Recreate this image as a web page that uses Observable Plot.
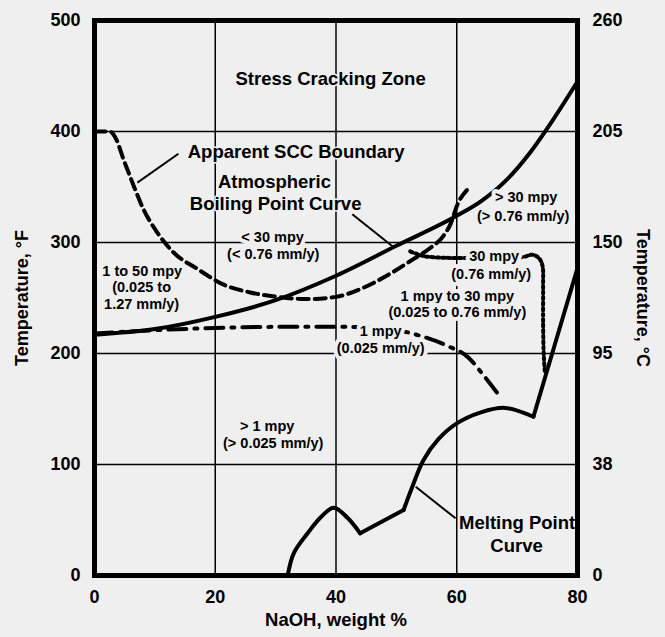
<!DOCTYPE html>
<html>
<head>
<meta charset="utf-8">
<script src="https://cdn.jsdelivr.net/npm/d3@7"></script>
<script src="https://cdn.jsdelivr.net/npm/@observablehq/plot@0.6"></script>
<style>
  html, body { margin: 0; padding: 0; background: #efefef; }
  svg text { paint-order: stroke; }
</style>
</head>
<body>
<div id="chart"></div>
<script>
// ---- Data ----
const xTicks = [0, 20, 40, 60, 80];
const yTicks = [0, 100, 200, 300, 400, 500];
const cTickLabels = ["0", "38", "95", "150", "205", "260"];

// Atmospheric boiling point curve
const boilPct  = [0, 10, 20, 30, 40, 50, 60, 64, 68, 72, 76, 80];
const boilTemp = [217, 222, 233, 248, 270, 297, 324, 337, 355, 380, 411, 445];

// Apparent SCC boundary (dashed)
const sccPct  = [0, 2.5, 3.6, 4.8, 6.5, 8.1, 10.4, 13.1, 17.1, 21.4, 25.8, 30.3, 35, 40, 44, 49, 52.8, 55.6, 57.8, 59, 60.1, 61.8];
const sccTemp = [400, 400, 393, 375, 351, 330, 309, 291, 276, 262, 255, 251, 249, 251, 258, 272, 285, 295, 306, 317, 334, 348];

// 1 mpy iso-corrosion line (dash-dot)
const mpy1Pct  = [0, 10, 20, 30, 42, 50, 54.5, 58.4, 62, 64.2, 67.2];
const mpy1Temp = [218, 221, 223, 224, 224, 221, 215, 207, 196, 182, 161];

// 30 mpy iso-corrosion line (dotted)
const mpy30Pct  = [52.3, 54, 55.5, 61, 71, 72.5, 73.6, 74.2, 74.3, 74.3, 74.4, 74.6];
const mpy30Temp = [292, 288.5, 287, 286, 287, 289, 286, 279, 260, 230, 200, 183];

// Melting point curve (segments between sharp corners)
const meltPct  = [32, 33, 35.3, 37.4, 39.6, 41.9, 44,   44, 51.2,   51.2, 52.5, 54.5, 57, 60, 64, 68, 72.7,   72.7, 80];
const meltTemp = [0, 20, 38, 52, 61, 52, 38,   38, 59,   59, 78, 104, 123, 137, 147, 151, 143,   143, 277];
const meltSeg  = ["a","a","a","a","a","a","a", "b","b", "c","c","c","c","c","c","c","c", "d","d"];

// Leader lines
const leaderX1 = [13.9, 42.7, 59.8];
const leaderY1 = [380, 325.5, 51.5];
const leaderX2 = [7.1, 49.5, 53.2];
const leaderY2 = [354, 296, 80];

// Annotations: large labels
const bigText = ["Stress Cracking Zone", "Apparent SCC Boundary", "Atmospheric", "Boiling Point Curve", "Melting Point", "Curve"];
const bigPct  = [39.1, 33.4, 29.8, 30.0, 70.0, 69.9];
const bigTemp = [447.6, 381.6, 354.4, 334.5, 47.0, 26.2];

// Annotations: small labels
const smallText = ["< 30 mpy", "(< 0.76 mm/y)", "1 to 50 mpy", "(0.025 to", "1.27 mm/y)",
  "> 30 mpy", "(> 0.76 mm/y)", "30 mpy", "(0.76 mm/y)", "1 mpy to 30 mpy", "(0.025 to 0.76 mm/y)",
  "1 mpy", "(0.025 mm/y)", "> 1 mpy", "(> 0.025 mm/y)"];
const smallPct  = [29.5, 29.6, 7.9, 7.8, 7.8, 71.5, 71.0, 66.2, 65.7, 60.1, 60.1, 47.4, 47.4, 28.6, 29.6];
const smallTemp = [304.7, 289.3, 274, 259.5, 244, 340.9, 323.7, 287.2, 271.0, 251.4, 236.9, 219.7, 204.3, 134.7, 119.3];

// ---- Build tables ----
const pts = (xs, ys) => xs.map((x, i) => ({x, y: ys[i]}));
const boil = pts(boilPct, boilTemp);
const scc = pts(sccPct, sccTemp);
const mpy1 = pts(mpy1Pct, mpy1Temp);
const mpy30 = pts(mpy30Pct, mpy30Temp);
const melt = meltPct.map((x, i) => ({x, y: meltTemp[i], s: meltSeg[i]}));
const leaders = leaderX1.map((x1, i) => ({x1, y1: leaderY1[i], x2: leaderX2[i], y2: leaderY2[i]}));
const bigLabels = bigText.map((t, i) => ({t, x: bigPct[i], y: bigTemp[i]}));
const smallLabels = smallText.map((t, i) => ({t, x: smallPct[i], y: smallTemp[i]}));

const BG = "#efefef";
const FONT = "'Liberation Sans', Arial, Helvetica, sans-serif";

const chart = Plot.plot({
  width: 665,
  height: 637,
  marginLeft: 94,
  marginRight: 88,
  marginTop: 20,
  marginBottom: 62,
  x: {domain: [0, 80]},
  y: {domain: [0, 500]},
  style: {background: BG, fontFamily: FONT, fontSize: "18px", fontWeight: "bold", color: "black"},
  marks: [
    Plot.gridX(xTicks.slice(1, -1), {stroke: "black", strokeOpacity: 1, strokeWidth: 1.5}),
    Plot.gridY(yTicks.slice(1, -1), {stroke: "black", strokeOpacity: 1, strokeWidth: 1.5}),
    Plot.line(boil, {x: "x", y: "y", curve: "monotone-x", stroke: "black", strokeWidth: 4}),
    Plot.line(scc, {x: "x", y: "y", curve: "monotone-x", stroke: "black", strokeWidth: 4, strokeDasharray: "11,6"}),
    Plot.line(mpy1, {x: "x", y: "y", curve: "monotone-x", stroke: "black", strokeWidth: 4, strokeDasharray: "18,8,3,8"}),
    Plot.line(mpy30, {x: "x", y: "y", curve: "catmull-rom", stroke: "black", strokeWidth: 4, strokeDasharray: "2.5,3"}),
    Plot.line(melt, {x: "x", y: "y", z: "s", curve: "catmull-rom", stroke: "black", strokeWidth: 4, strokeLinejoin: "miter"}),
    Plot.link(leaders, {x1: "x1", y1: "y1", x2: "x2", y2: "y2", stroke: "black", strokeWidth: 2}),
    Plot.text(bigLabels, {x: "x", y: "y", text: "t", fontSize: 18.5, fontWeight: "bold", fill: "black", stroke: BG, strokeWidth: 3}),
    Plot.text(smallLabels, {x: "x", y: "y", text: "t", fontSize: 14.5, fontWeight: "bold", fill: "black", stroke: BG, strokeWidth: 8}),
    Plot.frame({stroke: "black", strokeWidth: 5}),
    Plot.axisX({ticks: xTicks, tickSize: 0, tickPadding: 15, label: null, fontSize: 18}),
    Plot.axisY({ticks: yTicks, tickSize: 0, tickPadding: 14, label: null, fontSize: 18}),
    Plot.axisY({anchor: "right", ticks: yTicks, tickSize: 0, tickPadding: 15, label: null, fontSize: 18,
      tickFormat: (d) => cTickLabels[yTicks.indexOf(d)]}),
    Plot.text(["Temperature, °F"], {frameAnchor: "left", textAnchor: "middle", dx: -72, rotate: -90, fontSize: 18, fontWeight: "bold", text: (d) => d}),
    Plot.text(["Temperature, °C"], {frameAnchor: "right", textAnchor: "middle", dx: 65, rotate: 90, fontSize: 18, fontWeight: "bold", text: (d) => d}),
    Plot.text(["NaOH, weight %"], {frameAnchor: "bottom", dy: 50, fontSize: 18.5, fontWeight: "bold", text: (d) => d})
  ]
});
document.getElementById("chart").appendChild(chart);
</script>
</body>
</html>
